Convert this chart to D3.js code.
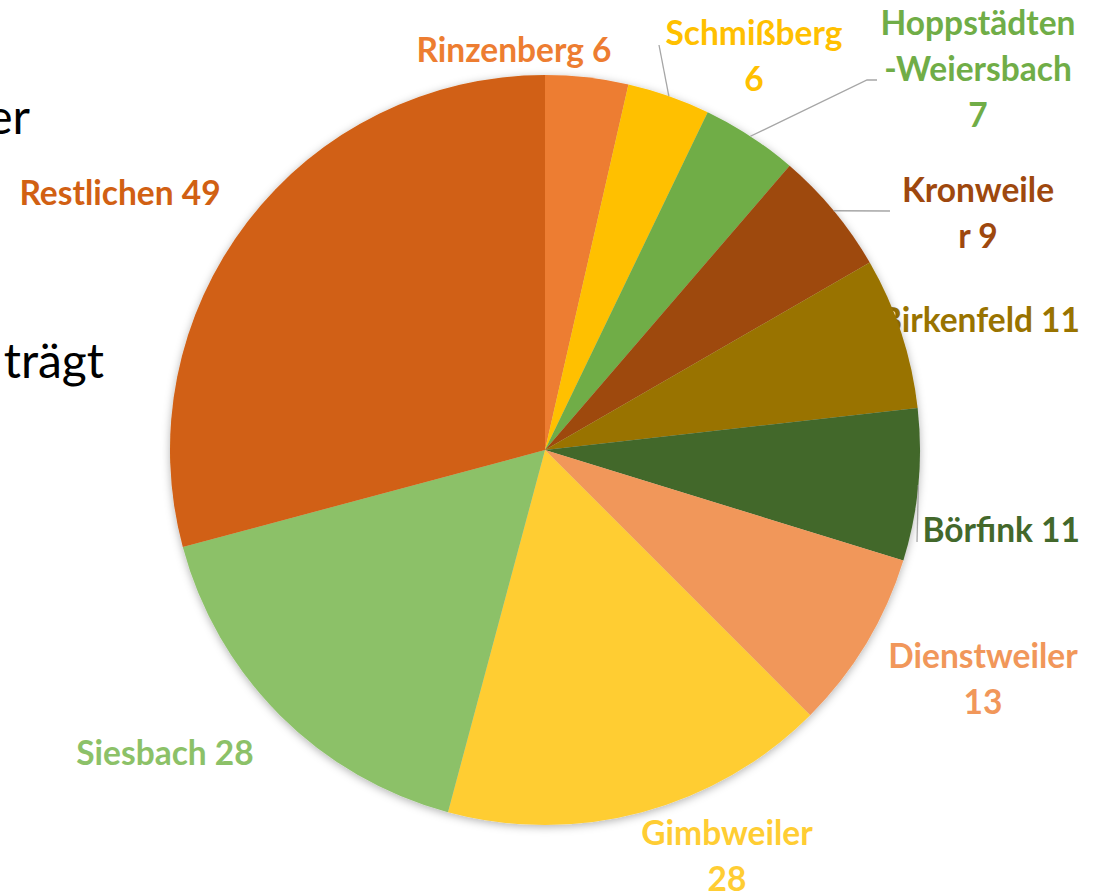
<!DOCTYPE html>
<html>
<head>
<meta charset="utf-8">
<script src="https://cdn.jsdelivr.net/npm/d3@7"></script>
<style>
  body { margin: 0; background: #fff; }
  svg { display: block; }
</style>
</head>
<body>
<svg id="drawing_region"></svg>
<script>
// Gemeinden und Werte (Uhrzeigersinn ab 12 Uhr)
const categories = ['Rinzenberg', 'Schmißberg', 'Hoppstädten-Weiersbach', 'Kronweiler', 'Birkenfeld',
  'Börfink', 'Dienstweiler', 'Gimbweiler', 'Siesbach', 'Restlichen'];
const values = [6, 6, 7, 9, 11, 11, 13, 28, 28, 49];
const colors = ['#ED7D31', '#FFC000', '#70AD47', '#9E480E', '#997300',
  '#43682B', '#F1975A', '#FFCD33', '#8CC168', '#D16013'];
// Beschriftungen wie im Original umbrochen
const labelLines = [
  ['Rinzenberg 6'], ['Schmißberg', '6'], ['Hoppstädten', '-Weiersbach', '7'], ['Kronweile', 'r 9'],
  ['Birkenfeld 11'], ['Börfink 11'], ['Dienstweiler', '13'], ['Gimbweiler', '28'], ['Siesbach 28'], ['Restlichen 49']
];

const config = {
  width: 1094,
  height: 895,
  cx: 545,
  cy: 450,
  radius: 375,
  fontSize: 33.5,
  lineHeight: 46
};

// Label-Anker: x, Grundlinie der ersten Zeile, Ausrichtung, optional Leader-Endpunkte
const labelLayout = [
  { x: 514, y: 62, anchor: 'middle' },
  { x: 754, y: 45, anchor: 'middle', leader: [[659, 45]] },
  { x: 978, y: 35, anchor: 'middle', leader: [[867, 80], [877, 80]] },
  { x: 978, y: 202, anchor: 'middle', leader: [[890, 211]] },
  { x: 1080, y: 332, anchor: 'end', under: true },
  { x: 1080, y: 542, anchor: 'end', leader: [[917, 542]] },
  { x: 983, y: 668, anchor: 'middle' },
  { x: 727, y: 845, anchor: 'middle' },
  { x: 165, y: 765, anchor: 'middle' },
  { x: 120, y: 205, anchor: 'middle' }
];

const data = categories.map((c, i) => ({ label: c, value: values[i], color: colors[i], lines: labelLines[i], pos: labelLayout[i] }));

const svg = d3.select('#drawing_region')
  .attr('width', config.width)
  .attr('height', config.height);

// Text des Folienhintergrunds (abgeschnitten)
svg.append('text').attr('x', 30).attr('y', 134).attr('text-anchor', 'end')
  .attr('font-family', 'Lato, sans-serif').attr('font-size', 48).attr('fill', '#000').text('er');
svg.append('text').attr('x', 104).attr('y', 378).attr('text-anchor', 'end')
  .attr('font-family', 'Lato, sans-serif').attr('font-size', 48).attr('fill', '#000').text('trägt');

const defs = svg.append('defs');
const filter = defs.append('filter').attr('id', 'shadow')
  .attr('x', '-10%').attr('y', '-10%').attr('width', '120%').attr('height', '120%');
filter.append('feDropShadow').attr('dx', 0).attr('dy', 2).attr('stdDeviation', 4)
  .attr('flood-color', '#000').attr('flood-opacity', 0.3);

const pie = d3.pie().value(d => d.value).sort(null);
const arcs = pie(data);
const arc = d3.arc().innerRadius(0).outerRadius(config.radius);

const g = svg.append('g').attr('transform', `translate(${config.cx},${config.cy})`);

function drawLabel(parent, d) {
  const t = parent.append('text')
    .attr('font-family', 'Lato, sans-serif')
    .attr('font-weight', 'bold')
    .attr('font-size', config.fontSize)
    .attr('fill', d.data.color)
    .attr('text-anchor', d.data.pos.anchor);
  d.data.lines.forEach((line, i) => {
    t.append('tspan')
      .attr('x', d.data.pos.x)
      .attr('y', d.data.pos.y + i * config.lineHeight)
      .text(line);
  });
}

// Labels, die vom Kreis überdeckt werden
const underLayer = svg.insert('g', 'g');
arcs.filter(d => d.data.pos.under).forEach(d => drawLabel(underLayer, d));

g.append('g').attr('filter', 'url(#shadow)')
  .selectAll('path')
  .data(arcs)
  .enter()
  .append('path')
  .attr('d', arc)
  .attr('fill', d => d.data.color);

// Leader-Linien vom Kreisrand (Mittelwinkel)
const lineGen = d3.line();
arcs.filter(d => d.data.pos.leader).forEach(d => {
  const mid = (d.startAngle + d.endAngle) / 2;
  const start = [config.cx + config.radius * Math.sin(mid), config.cy - config.radius * Math.cos(mid)];
  svg.append('path')
    .attr('d', lineGen([start].concat(d.data.pos.leader)))
    .attr('fill', 'none')
    .attr('stroke', '#A6A6A6')
    .attr('stroke-width', 1.3);
});

const labelLayer = svg.append('g');
arcs.filter(d => !d.data.pos.under).forEach(d => drawLabel(labelLayer, d));
</script>
</body>
</html>
